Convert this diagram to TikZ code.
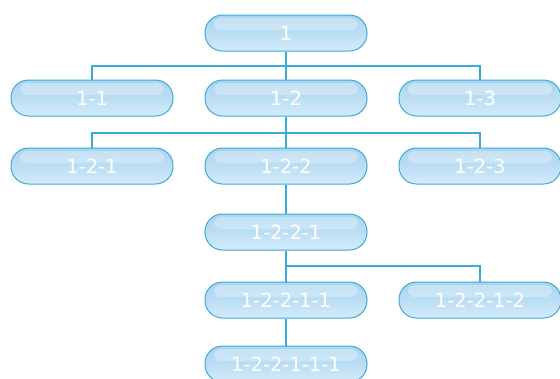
\documentclass[tikz,border=0pt]{standalone}
\usepackage{fontspec}
\setmainfont{DejaVu Sans}
\definecolor{edge}{RGB}{58,170,216}
\definecolor{topc}{RGB}{170,212,240}
\definecolor{midc}{RGB}{188,222,244}
\definecolor{botc}{RGB}{212,235,250}
\begin{document}
\begin{tikzpicture}[x=1pt,y=-1pt,
  box/.style={draw=edge,line width=1pt,rounded corners=17.5pt,minimum width=162pt,minimum height=36pt,
    top color=topc,bottom color=botc,middle color=midc,text=white,inner sep=0pt,
    font=\fontsize{19.5}{19.5}\selectfont,
    path picture={\fill[white,opacity=0.3,rounded corners=7pt]
      ([xshift=9pt,yshift=-3pt]path picture bounding box.north west) rectangle
      ([xshift=-9pt,yshift=-15pt]path picture bounding box.north east);}},
  link/.style={draw=edge,line width=1.6pt}]
\useasboundingbox (0,0) rectangle (560,378);
\node[box] (n1) at (286,33) {1};
\node[box] (n11) at (92,98) {1-1};
\node[box] (n12) at (286,98) {1-2};
\node[box] (n13) at (480,98) {1-3};
\node[box] (n121) at (92,166) {1-2-1};
\node[box] (n122) at (286,166) {1-2-2};
\node[box] (n123) at (480,166) {1-2-3};
\node[box] (n1221) at (286,232) {1-2-2-1};
\node[box] (n12211) at (286,300) {1-2-2-1-1};
\node[box] (n12212) at (480,300) {1-2-2-1-2};
\node[box] (n122111) at (286,364) {1-2-2-1-1-1};
\draw[link] (n1.south) -- (n12.north);
\draw[link] (n11.north) |- (286,66) -| (n13.north);
\draw[link] (n12.south) -- (n122.north);
\draw[link] (n121.north) |- (286,133) -| (n123.north);
\draw[link] (n122.south) -- (n1221.north);
\draw[link] (n1221.south) -- (n12211.north);
\draw[link] (n12211.north) |- (286,266) -| (n12212.north);
\draw[link] (n12211.south) -- (n122111.north);
\end{tikzpicture}
\end{document}
